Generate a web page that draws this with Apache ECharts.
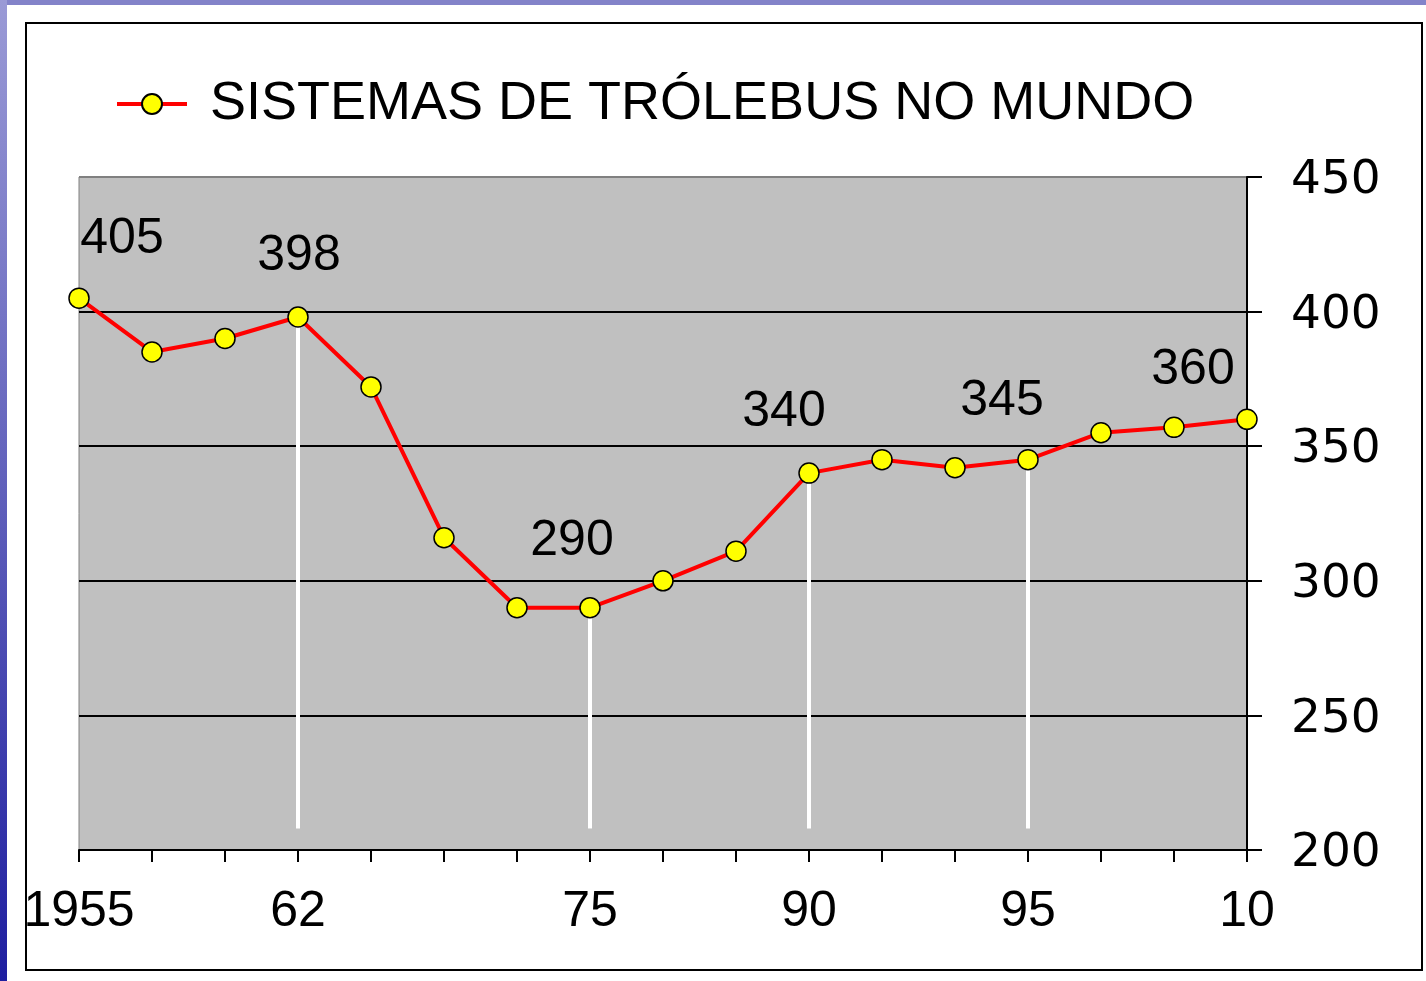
<!DOCTYPE html>
<html><head><meta charset="utf-8">
<script src="https://cdn.jsdelivr.net/npm/echarts@6/dist/echarts.min.js"></script>
<style>html,body{margin:0;padding:0;background:#fff;}#c{width:1426px;height:981px;}</style>
</head><body><div id="c"></div>
<script>
// ---- data ----
const categories = ['1955','','','62','','','','75','','','90','','','95','','','10'];
const values = [405,385,390,398,372,316,290,290,300,311,340,345,342,345,355,357,360];
const labelIndices = [0,3,7,10,13,16];
const dropIndices = [3,7,10,13];
const dropBase = 208;
const yMin = 200, yMax = 450, yInterval = 50;
const seriesName = 'SISTEMAS DE TRÓLEBUS NO MUNDO';

// ---- styling ----
const SANS = "'Liberation Sans',Arial,sans-serif";
const labelOffsets = {0:[43,-59],3:[1,-61],7:[-18,-67],10:[-25,-61],13:[-26,-58],16:[-54,-49]};

const chart = echarts.init(document.getElementById('c'), null, {renderer:'canvas'});
const lineData = values.map((v,i) => labelIndices.includes(i)
  ? {value:v, label:{show:true, position:'inside', offset:labelOffsets[i]}}
  : v);

chart.setOption({
  animation:false,
  backgroundColor:'#fff',
  graphic:[
    {type:'rect', shape:{x:0,y:0,width:1426,height:5}, style:{fill:'#8383c9'}, z:-10},
    {type:'rect', shape:{x:0,y:0,width:7,height:981},
     style:{fill:new echarts.graphic.LinearGradient(0,0,0,1,[{offset:0,color:'#9a9ad6'},{offset:0.5,color:'#6060bb'},{offset:1,color:'#1e1ea0'}])}, z:-10},
    {type:'rect', shape:{x:26,y:23,width:1396,height:947}, style:{fill:null, stroke:'#000', lineWidth:2}, z:-5}
  ],
  legend:{
    data:[seriesName], left:110, top:72, itemWidth:70, itemHeight:25,
    lineStyle:{width:4},
    textStyle:{fontSize:54, fontFamily:SANS, color:'#000', padding:[0,0,0,18]}
  },
  grid:{left:79, right:179, top:177, bottom:131, show:true, backgroundColor:'#c0c0c0', borderColor:'#808080', borderWidth:1},
  xAxis:{
    type:'category', data:categories, boundaryGap:false,
    axisLine:{lineStyle:{color:'#000', width:2}},
    axisTick:{show:true, interval:0, length:12, lineStyle:{color:'#000', width:2}},
    axisLabel:{interval:0, fontSize:50, fontFamily:SANS, color:'#000', margin:37},
    splitLine:{show:false}
  },
  yAxis:{
    type:'value', position:'right', min:yMin, max:yMax, interval:yInterval,
    axisLine:{show:true, lineStyle:{color:'#000', width:2}},
    axisTick:{show:true, length:15, lineStyle:{color:'#000', width:2}},
    axisLabel:{fontSize:47, fontFamily:"'DejaVu Sans',sans-serif", color:'#000', margin:44,
      formatter:'{a|{value}}', rich:{a:{fontSize:47, fontFamily:"'DejaVu Sans',sans-serif", color:'#000', padding:[8,0,0,0]}}},
    splitLine:{show:true, lineStyle:{color:['#000','#000','#000','#000','#000','#808080'], width:2}}
  },
  series:[
    {
      type:'custom', name:'drops', z:1, silent:true,
      data: dropIndices.map(i => [i, values[i]]),
      renderItem:(params, api) => {
        const p1 = api.coord([api.value(0), dropBase]);
        const p2 = api.coord([api.value(0), api.value(1)]);
        return {type:'line', shape:{x1:p1[0],y1:p1[1],x2:p2[0],y2:p2[1]}, style:{stroke:'#fff', lineWidth:4}};
      }
    },
    {
      type:'line', name:seriesName, z:3, data:lineData,
      symbol:'circle', symbolSize:20,
      lineStyle:{color:'#ff0000', width:4},
      itemStyle:{color:'#ffff00', borderColor:'#000', borderWidth:1.5},
      label:{show:false, fontSize:50, fontFamily:SANS, color:'#000'}
    }
  ]
});
</script></body></html>
